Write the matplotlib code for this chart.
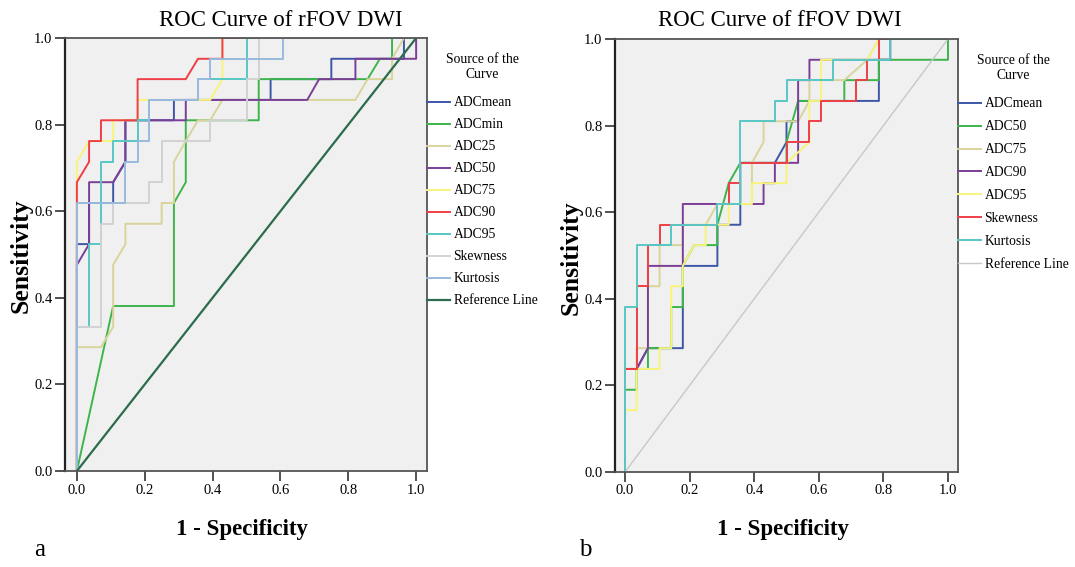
import matplotlib
matplotlib.use('Agg')
import matplotlib.pyplot as plt

plt.rcParams['font.family'] = ['Liberation Serif', 'DejaVu Serif']

# ---- rFOV DWI (panel a) ----
a_labels = ['ADCmean', 'ADCmin', 'ADC25', 'ADC50', 'ADC75', 'ADC90', 'ADC95',
            'Skewness', 'Kurtosis']
a_mean_x = [0, 0, 0.036, 0.036, 0.107, 0.107, 0.143, 0.143, 0.286, 0.286, 0.571, 0.571, 0.75, 0.75, 0.964, 0.964, 1]
a_mean_y = [0, 0.524, 0.524, 0.619, 0.619, 0.667, 0.714, 0.81, 0.81, 0.857, 0.857, 0.905, 0.905, 0.952, 0.952, 1, 1]
a_min_x = [0, 0.107, 0.286, 0.286, 0.321, 0.321, 0.536, 0.536, 0.857, 0.893, 0.929, 0.929, 1]
a_min_y = [0, 0.381, 0.381, 0.619, 0.667, 0.81, 0.81, 0.905, 0.905, 0.952, 0.952, 1, 1]
a_25_x = [0, 0, 0.071, 0.107, 0.107, 0.143, 0.143, 0.25, 0.25, 0.286, 0.286, 0.321, 0.357, 0.393, 0.429, 0.821, 0.857, 0.929, 0.929, 0.964, 1]
a_25_y = [0, 0.286, 0.286, 0.333, 0.476, 0.524, 0.571, 0.571, 0.619, 0.619, 0.714, 0.762, 0.81, 0.81, 0.857, 0.857, 0.905, 0.905, 0.952, 1, 1]
a_50_x = [0, 0, 0.036, 0.036, 0.107, 0.143, 0.143, 0.321, 0.321, 0.679, 0.714, 0.821, 0.821, 1, 1]
a_50_y = [0, 0.476, 0.524, 0.667, 0.667, 0.714, 0.81, 0.81, 0.857, 0.857, 0.905, 0.905, 0.952, 0.952, 1]
a_75_x = [0, 0, 0.036, 0.107, 0.107, 0.179, 0.179, 0.393, 0.429, 0.429, 1]
a_75_y = [0, 0.714, 0.762, 0.762, 0.81, 0.81, 0.857, 0.857, 0.905, 1, 1]
a_90_x = [0, 0, 0.036, 0.036, 0.071, 0.071, 0.179, 0.179, 0.321, 0.357, 0.429, 0.429, 1]
a_90_y = [0, 0.667, 0.714, 0.762, 0.762, 0.81, 0.81, 0.905, 0.905, 0.952, 0.952, 1, 1]
a_95_x = [0, 0, 0.036, 0.036, 0.071, 0.071, 0.107, 0.107, 0.179, 0.179, 0.214, 0.214, 0.357, 0.357, 0.5, 0.5, 1]
a_95_y = [0, 0.333, 0.333, 0.524, 0.524, 0.714, 0.714, 0.762, 0.762, 0.81, 0.81, 0.857, 0.857, 0.905, 0.905, 1, 1]
a_skew_x = [0, 0, 0.071, 0.071, 0.107, 0.107, 0.214, 0.214, 0.25, 0.25, 0.393, 0.393, 0.5, 0.5, 0.536, 0.536, 1]
a_skew_y = [0, 0.333, 0.333, 0.571, 0.571, 0.619, 0.619, 0.667, 0.667, 0.762, 0.762, 0.81, 0.81, 0.905, 0.905, 1, 1]
a_kurt_x = [0, 0, 0.143, 0.143, 0.179, 0.179, 0.214, 0.214, 0.357, 0.357, 0.393, 0.393, 0.607, 0.607, 1]
a_kurt_y = [0, 0.619, 0.619, 0.714, 0.714, 0.762, 0.762, 0.857, 0.857, 0.905, 0.905, 0.952, 0.952, 1, 1]

# ---- fFOV DWI (panel b) ----
b_labels = ['ADCmean', 'ADC50', 'ADC75', 'ADC90', 'ADC95', 'Skewness', 'Kurtosis']
b_mean_x = [0, 0, 0.036, 0.071, 0.179, 0.179, 0.286, 0.286, 0.357, 0.357, 0.464, 0.5, 0.5, 0.536, 0.536, 0.786, 0.786, 0.821, 0.821, 1]
b_mean_y = [0, 0.238, 0.238, 0.286, 0.286, 0.476, 0.476, 0.571, 0.571, 0.714, 0.714, 0.762, 0.81, 0.81, 0.857, 0.857, 0.952, 0.952, 1, 1]
b_50_x = [0, 0, 0.036, 0.036, 0.071, 0.071, 0.143, 0.143, 0.179, 0.179, 0.214, 0.286, 0.286, 0.321, 0.357, 0.5, 0.5, 0.536, 0.679, 0.679, 0.786, 0.786, 1, 1]
b_50_y = [0, 0.19, 0.19, 0.238, 0.238, 0.286, 0.286, 0.381, 0.381, 0.476, 0.524, 0.524, 0.571, 0.667, 0.714, 0.714, 0.762, 0.857, 0.857, 0.905, 0.905, 0.952, 0.952, 1]
b_75_x = [0, 0, 0.036, 0.036, 0.071, 0.071, 0.107, 0.107, 0.179, 0.179, 0.25, 0.286, 0.393, 0.393, 0.429, 0.429, 0.536, 0.571, 0.571, 0.679, 0.75, 0.786, 1]
b_75_y = [0, 0.238, 0.238, 0.286, 0.286, 0.429, 0.429, 0.524, 0.524, 0.571, 0.571, 0.619, 0.619, 0.714, 0.762, 0.81, 0.81, 0.857, 0.905, 0.905, 0.952, 1, 1]
b_90_x = [0, 0, 0.036, 0.071, 0.071, 0.179, 0.179, 0.429, 0.429, 0.464, 0.464, 0.536, 0.536, 0.571, 0.571, 0.821, 0.821, 1]
b_90_y = [0, 0.238, 0.238, 0.286, 0.476, 0.476, 0.619, 0.619, 0.667, 0.667, 0.714, 0.714, 0.905, 0.905, 0.952, 0.952, 1, 1]
b_95_x = [0, 0, 0.036, 0.036, 0.107, 0.107, 0.143, 0.143, 0.179, 0.179, 0.214, 0.25, 0.25, 0.321, 0.321, 0.393, 0.393, 0.5, 0.5, 0.571, 0.571, 0.607, 0.607, 0.75, 0.786, 1]
b_95_y = [0, 0.143, 0.143, 0.238, 0.238, 0.286, 0.286, 0.429, 0.429, 0.476, 0.524, 0.524, 0.571, 0.571, 0.619, 0.619, 0.667, 0.667, 0.714, 0.762, 0.857, 0.857, 0.952, 0.952, 1, 1]
b_skew_x = [0, 0, 0.036, 0.036, 0.071, 0.071, 0.107, 0.107, 0.286, 0.286, 0.321, 0.321, 0.357, 0.357, 0.5, 0.5, 0.571, 0.571, 0.607, 0.607, 0.714, 0.714, 0.75, 0.75, 0.786, 0.786, 1]
b_skew_y = [0, 0.238, 0.238, 0.429, 0.429, 0.524, 0.524, 0.571, 0.571, 0.619, 0.619, 0.667, 0.667, 0.714, 0.714, 0.762, 0.762, 0.81, 0.81, 0.857, 0.857, 0.905, 0.905, 0.952, 0.952, 1, 1]
b_kurt_x = [0, 0, 0.036, 0.036, 0.143, 0.143, 0.286, 0.286, 0.357, 0.357, 0.464, 0.464, 0.5, 0.5, 0.643, 0.643, 0.821, 0.821, 1]
b_kurt_y = [0, 0.381, 0.381, 0.524, 0.524, 0.571, 0.571, 0.619, 0.619, 0.81, 0.81, 0.857, 0.857, 0.905, 0.905, 0.952, 0.952, 1, 1]

a_curves = [(a_mean_x, a_mean_y), (a_min_x, a_min_y), (a_25_x, a_25_y), (a_50_x, a_50_y),
            (a_75_x, a_75_y), (a_90_x, a_90_y), (a_95_x, a_95_y), (a_skew_x, a_skew_y),
            (a_kurt_x, a_kurt_y)]
b_curves = [(b_mean_x, b_mean_y), (b_50_x, b_50_y), (b_75_x, b_75_y), (b_90_x, b_90_y),
            (b_95_x, b_95_y), (b_skew_x, b_skew_y), (b_kurt_x, b_kurt_y)]

a_colors = ['#3d56a8', '#3db54a', '#d8d49a', '#7a3e97', '#f8f47a', '#ee3f46', '#58c7c4',
            '#d2d2d2', '#98b9de']
b_colors = ['#3d56a8', '#3db54a', '#d8d49a', '#7a3e97', '#f8f47a', '#ee3f46', '#58c7c4']
ticks = [0.0, 0.2, 0.4, 0.6, 0.8, 1.0]

fig = plt.figure(figsize=(10.75, 5.67), dpi=100)
ax1 = fig.add_axes([65 / 1075, 1 - 471 / 567, 362 / 1075, 433 / 567])
ax2 = fig.add_axes([615 / 1075, 1 - 472 / 567, 343 / 1075, 433 / 567])


def draw(ax, curves, labels, colors, ref_color, ref_lw, xlim, spacing):
    ax.set_facecolor('#f0f0f0')
    for (x, y), lab, c in zip(curves, labels, colors):
        ax.plot(x, y, color=c, lw=1.4, label=lab)
    ax.plot([0, 1], [0, 1], color=ref_color, lw=ref_lw, label='Reference Line')
    ax.set_xlim(*xlim)
    ax.set_ylim(0, 1)
    ax.set_xticks(ticks)
    ax.set_yticks(ticks)
    ax.set_xticklabels(['%.1f' % t for t in ticks], fontsize=10.5)
    ax.set_yticklabels(['%.1f' % t for t in ticks], fontsize=10.5)
    ax.tick_params(direction='out', length=7, width=1.2, colors='#333333', labelcolor='black', pad=2)
    for s in ax.spines.values():
        s.set_color('#555555')
        s.set_linewidth(1.3)
    ax.spines['left'].set_linewidth(1.6)
    ax.spines['left'].set_color('#222222')
    leg = ax.legend(loc='upper left', bbox_to_anchor=(1.0, 0.965), frameon=False,
                    title='Source of the\nCurve', fontsize=9.8, title_fontsize=9.8,
                    handlelength=1.7, handletextpad=0.25, labelspacing=spacing,
                    borderaxespad=0.0, borderpad=0.0)
    leg.get_title().set_multialignment('center')
    leg._legend_box.sep = 11


draw(ax1, a_curves, a_labels, a_colors, '#2c6b4c', 1.6, (-0.035, 1.032), 0.66)
draw(ax2, b_curves, b_labels, b_colors, '#c8c8c8', 1.0, (-0.031, 1.031), 0.73)

fig.text(281 / 1075, 1 - 20 / 567, 'ROC Curve of rFOV DWI', ha='center', va='center', fontsize=16.5)
fig.text(780 / 1075, 1 - 20 / 567, 'ROC Curve of fFOV DWI', ha='center', va='center', fontsize=16.5)
fig.text(21 / 1075, 1 - 256 / 567, 'Sensitivity', rotation=90, ha='center', va='center',
         fontsize=18.5, fontweight='bold')
fig.text(571 / 1075, 1 - 258 / 567, 'Sensitivity', rotation=90, ha='center', va='center',
         fontsize=18.5, fontweight='bold')
fig.text(242 / 1075, 1 - 530 / 567, '1 - Specificity', ha='center', va='center',
         fontsize=16.5, fontweight='bold')
fig.text(783 / 1075, 1 - 530 / 567, '1 - Specificity', ha='center', va='center',
         fontsize=16.5, fontweight='bold')
fig.text(40 / 1075, 1 - 550 / 567, 'a', ha='center', va='center', fontsize=18)
fig.text(585 / 1075, 1 - 550 / 567, 'b', ha='center', va='center', fontsize=18)

fig.savefig('out.png', dpi=100)
